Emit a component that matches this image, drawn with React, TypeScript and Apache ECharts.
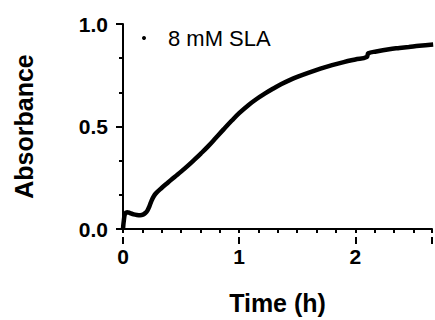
import React, { useEffect, useRef } from "react";
import * as echarts from "echarts";

const timeH = [
  0, 0.008, 0.018, 0.035, 0.06, 0.092, 0.12, 0.148, 0.172, 0.192, 0.21, 0.228, 0.247, 0.265,
  0.285, 0.332, 0.39, 0.444, 0.5, 0.557, 0.62, 0.67, 0.73, 0.8, 0.866, 0.937, 1.0, 1.079,
  1.15, 1.22, 1.29, 1.36, 1.43, 1.5, 1.6, 1.7, 1.8, 1.9, 2.0, 2.098, 2.112, 2.18, 2.291,
  2.38, 2.46, 2.55, 2.67,
];
const absorbance = [
  0, 0.045, 0.075, 0.082, 0.078, 0.071, 0.068, 0.067, 0.07, 0.078, 0.09, 0.112, 0.14, 0.16,
  0.175, 0.2, 0.228, 0.254, 0.28, 0.308, 0.341, 0.368, 0.402, 0.445, 0.486, 0.529, 0.565, 0.604,
  0.634, 0.66, 0.684, 0.706, 0.725, 0.742, 0.763, 0.782, 0.799, 0.814, 0.827, 0.839, 0.857,
  0.866, 0.877, 0.883, 0.888, 0.894, 0.9,
];
const seriesName = "8 mM SLA";
const xTitle = "Time (h)";
const yTitle = "Absorbance";
const yTickLabels = ["0.0", "0.5", "1.0"];

const FONT = "'Liberation Sans', Arial, sans-serif";

export default function App() {
  const ref = useRef<HTMLDivElement>(null);
  useEffect(() => {
    if (!ref.current) return;
    const chart = echarts.init(ref.current, null, { renderer: "svg" });
    const data = timeH.map((t, i) => [t, absorbance[i]]);
    const gridTop = 24;
    const gridBottom = 83;
    const gridH = 320 - gridTop - gridBottom;
    const xMax = 2.66;
    chart.setOption({
      animation: false,
      backgroundColor: "#ffffff",
      grid: { left: 123, right: -1, top: gridTop, bottom: gridBottom, containLabel: false },
      legend: {
        show: true,
        left: 137,
        top: 22,
        icon: "circle",
        itemWidth: 4,
        itemHeight: 4,
        data: [seriesName],
        textStyle: {
          fontFamily: FONT,
          fontSize: 22,
          color: "#000",
          padding: [0, 0, 0, 17],
        },
      },
      xAxis: [
        {
          type: "value",
          min: 0,
          max: xMax,
          interval: 1 / 6,
          name: xTitle,
          nameLocation: "middle",
          nameGap: 61,
          nameTextStyle: { fontFamily: FONT, fontSize: 25, fontWeight: "bold", color: "#000" },
          axisLine: { show: true, lineStyle: { color: "#000", width: 2 } },
          axisTick: { show: true, length: 4, lineStyle: { color: "#000", width: 2 } },
          axisLabel: {
            show: true,
            margin: 17,
            fontFamily: FONT,
            fontSize: 21,
            fontWeight: "bold",
            color: "#000",
            formatter: (v: number) =>
              Math.abs(v - Math.round(v)) < 1e-6 && v < 2.6 ? String(Math.round(v)) : "",
          },
          splitLine: { show: false },
        },
        {
          type: "value",
          position: "top",
          offset: -gridH,
          min: 0,
          max: xMax,
          interval: 1,
          axisLine: { show: false },
          axisTick: { show: true, inside: true, length: 7, lineStyle: { color: "#000", width: 2 } },
          axisLabel: { show: false },
          splitLine: { show: false },
        },
      ],
      yAxis: {
        type: "value",
        min: 0,
        max: 1,
        interval: 0.5,
        name: yTitle,
        nameLocation: "middle",
        nameGap: 87,
        nameTextStyle: { fontFamily: FONT, fontSize: 25, fontWeight: "bold", color: "#000" },
        axisLine: { show: true, lineStyle: { color: "#000", width: 2 } },
        axisTick: { show: true, length: 7, lineStyle: { color: "#000", width: 2 } },
        minorTick: { show: true, splitNumber: 3, length: 4, lineStyle: { color: "#000", width: 2 } },
        axisLabel: {
          margin: 15,
          fontFamily: FONT,
          fontSize: 21,
          fontWeight: "bold",
          color: "#000",
          formatter: (v: number) => yTickLabels[Math.round(v * 2)] ?? v.toFixed(1),
        },
        splitLine: { show: false },
        minorSplitLine: { show: false },
      },
      series: [
        {
          name: seriesName,
          type: "line",
          xAxisIndex: 0,
          data,
          showSymbol: false,
          symbol: "none",
          smooth: 0.4,
          itemStyle: { color: "#000" },
          lineStyle: { color: "#000", width: 4.5 },
        },
      ],
    });
    return () => chart.dispose();
  }, []);
  return (
    <div
      ref={ref}
      style={{ position: "fixed", left: 0, top: 0, width: 435, height: 320 }}
    />
  );
}
